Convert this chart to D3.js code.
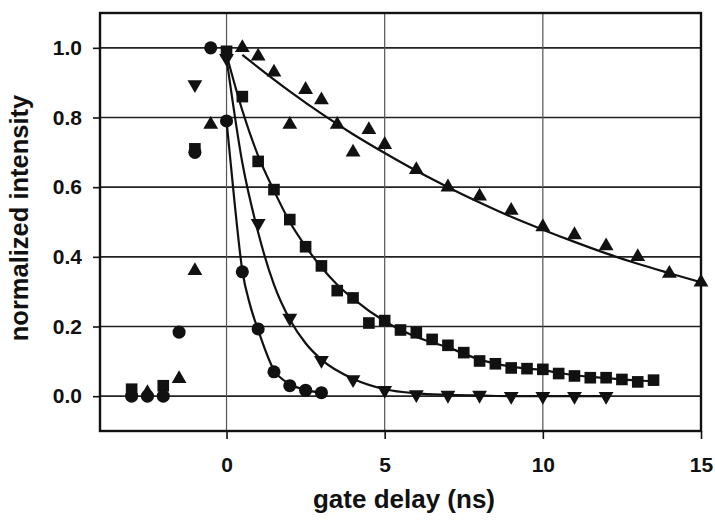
<!DOCTYPE html>
<html>
<head>
<meta charset="utf-8">
<script src="https://cdn.jsdelivr.net/npm/d3@7"></script>
<style>
  body { margin: 0; background: #fff; }
  text { font-family: "Liberation Sans", Arial, sans-serif; font-weight: bold; fill: #111; }
</style>
</head>
<body>
<div id="chart"></div>
<script>
// chart size
const width = 715;
const height = 521;

// measured points, one array per marker type
const circleX = [-3, -2.5, -2, -1.5, -1, -0.5, 0, 0.5, 1, 1.5, 2, 2.5, 3];
const circleY = [0.0, 0.0, 0.0, 0.184, 0.70, 1.0, 0.79, 0.357, 0.193, 0.07, 0.03, 0.017, 0.01];

const squareX = [-3, -2, -1, 0, 0.5, 1, 1.5, 2, 2.5, 3, 3.5, 4, 4.5, 5, 5.5, 6, 6.5, 7, 7.5, 8, 8.5, 9, 9.5, 10, 10.5, 11, 11.5, 12, 12.5, 13, 13.5];
const squareY = [0.02, 0.03, 0.71, 0.99, 0.86, 0.674, 0.593, 0.507, 0.429, 0.374, 0.303, 0.282, 0.21, 0.217, 0.19, 0.182, 0.163, 0.146, 0.125, 0.101, 0.093, 0.081, 0.079, 0.077, 0.065, 0.058, 0.053, 0.053, 0.048, 0.041, 0.046];

const downX = [-1, 0, 1, 2, 3, 4, 5, 6, 7, 8, 9, 10, 11, 12];
const downY = [0.895, 0.97, 0.496, 0.224, 0.103, 0.048, 0.017, 0.005, 0.003, 0.003, 0.0, 0.0, 0.0, 0.0];

const upX = [-2.5, -1.5, -1, -0.5, 0.5, 1, 1.5, 2, 2.5, 3, 3.5, 4, 4.5, 5, 6, 7, 8, 9, 10, 11, 12, 13, 14, 15];
const upY = [0.01, 0.05, 0.36, 0.78, 1.0, 0.976, 0.93, 0.78, 0.88, 0.85, 0.78, 0.70, 0.765, 0.722, 0.65, 0.60, 0.574, 0.533, 0.486, 0.463, 0.431, 0.40, 0.352, 0.327];

// fitted curves
const circleFitX = [0, 0.25, 0.5, 0.75, 1, 1.5, 2, 2.5, 3];
const circleFitY = [0.79, 0.56, 0.36, 0.26, 0.19, 0.075, 0.035, 0.018, 0.01];

const squareFitX = [0, 0.5, 1, 1.5, 2, 2.5, 3, 3.5, 4, 5, 6, 7, 8, 9, 10, 11, 12, 13, 13.5];
const squareFitY = [0.98, 0.82, 0.69, 0.59, 0.50, 0.43, 0.37, 0.32, 0.28, 0.215, 0.17, 0.14, 0.105, 0.085, 0.075, 0.06, 0.052, 0.045, 0.043];

const downFitX = [0, 0.5, 1, 1.5, 2, 2.5, 3, 4, 5, 6, 7, 8, 9, 10, 11, 12];
const downFitY = [0.97, 0.67, 0.47, 0.32, 0.22, 0.152, 0.105, 0.05, 0.02, 0.008, 0.004, 0.002, 0.0, 0.0, 0.0, 0.0];

const upFitX = [0.5, 1, 2, 3, 4, 5, 6, 7, 8, 9, 10, 11, 12, 13, 14, 15];
const upFitY = [0.98, 0.944, 0.875, 0.811, 0.752, 0.698, 0.647, 0.60, 0.556, 0.515, 0.478, 0.443, 0.41, 0.38, 0.353, 0.327];

// axis ticks
const xTicks = [0, 5, 10, 15];
const yTicks = [0, 0.2, 0.4, 0.6, 0.8, 1.0];

const svg = d3.select("#chart")
    .append("svg")
    .attr("width", width)
    .attr("height", height);

const x = d3.scaleLinear().domain([-4, 15]).range([100, 701]);
const y = d3.scaleLinear().domain([-0.1, 1.1]).range([431, 13]);

const ink = "#111";

// horizontal grid lines
svg.append("g")
    .selectAll("line")
    .data(yTicks)
    .join("line")
    .attr("x1", x(-4))
    .attr("x2", x(15))
    .attr("y1", d => y(d))
    .attr("y2", d => y(d))
    .attr("stroke", "#222")
    .attr("stroke-width", 1.6);

// vertical grid lines (thinner, grey)
svg.append("g")
    .selectAll("line")
    .data([0, 5, 10])
    .join("line")
    .attr("x1", d => x(d))
    .attr("x2", d => x(d))
    .attr("y1", y(1.1))
    .attr("y2", y(-0.1))
    .attr("stroke", "#555")
    .attr("stroke-width", 1.2);

// y axis
const yAxis = svg.append("g")
    .attr("transform", `translate(${x(-4)},0)`)
    .call(d3.axisLeft(y).tickValues(yTicks).tickFormat(d3.format(".1f")).tickSize(7).tickPadding(11));
yAxis.select(".domain").remove();
yAxis.selectAll("line").attr("stroke", ink).attr("stroke-width", 1.6);
yAxis.selectAll("text").attr("font-size", 21).attr("fill", ink).attr("font-family", null);

// x axis
const xAxis = svg.append("g")
    .attr("transform", `translate(0,${y(-0.1)})`)
    .call(d3.axisBottom(x).tickValues(xTicks).tickFormat(d3.format("d")).tickSize(8).tickPadding(18));
xAxis.select(".domain").remove();
xAxis.selectAll("line").attr("stroke", ink).attr("stroke-width", 1.6);
xAxis.selectAll("text").attr("font-size", 21).attr("fill", ink).attr("font-family", null);

// plot frame
svg.append("rect")
    .attr("x", x(-4))
    .attr("y", y(1.1))
    .attr("width", x(15) - x(-4))
    .attr("height", y(-0.1) - y(1.1))
    .attr("fill", "none")
    .attr("stroke", ink)
    .attr("stroke-width", 2.4);

// fitted lines
const line = d3.line()
    .x(d => x(d[0]))
    .y(d => y(d[1]))
    .curve(d3.curveMonotoneX);

const fits = [
    [circleFitX, circleFitY],
    [squareFitX, squareFitY],
    [downFitX, downFitY],
    [upFitX, upFitY]
];
fits.forEach(([xs, ys]) => {
    svg.append("path")
        .datum(xs.map((v, i) => [v, ys[i]]))
        .attr("d", line)
        .attr("fill", "none")
        .attr("stroke", ink)
        .attr("stroke-width", 2.2);
});

// markers
const sym = {
    circle: d3.symbol().type(d3.symbolCircle).size(135),
    square: d3.symbol().type(d3.symbolSquare).size(135),
    up: d3.symbol().type(d3.symbolTriangle).size(95),
    down: d3.symbol().type(d3.symbolTriangle).size(95)
};

function drawMarkers(xs, ys, kind) {
    svg.append("g")
        .selectAll("path")
        .data(xs.map((v, i) => [v, ys[i]]))
        .join("path")
        .attr("d", sym[kind])
        .attr("transform", d => `translate(${x(d[0])},${y(d[1])})` + (kind === "down" ? " rotate(180)" : ""))
        .attr("fill", ink);
}

drawMarkers(upX, upY, "up");
drawMarkers(downX, downY, "down");
drawMarkers(squareX, squareY, "square");
drawMarkers(circleX, circleY, "circle");

// axis titles
svg.append("text")
    .attr("x", 404)
    .attr("y", 508)
    .attr("text-anchor", "middle")
    .attr("font-size", 26)
    .text("gate delay (ns)");

svg.append("text")
    .attr("transform", "translate(28,218) rotate(-90)")
    .attr("text-anchor", "middle")
    .attr("font-size", 25.5)
    .text("normalized intensity");
</script>
</body>
</html>
